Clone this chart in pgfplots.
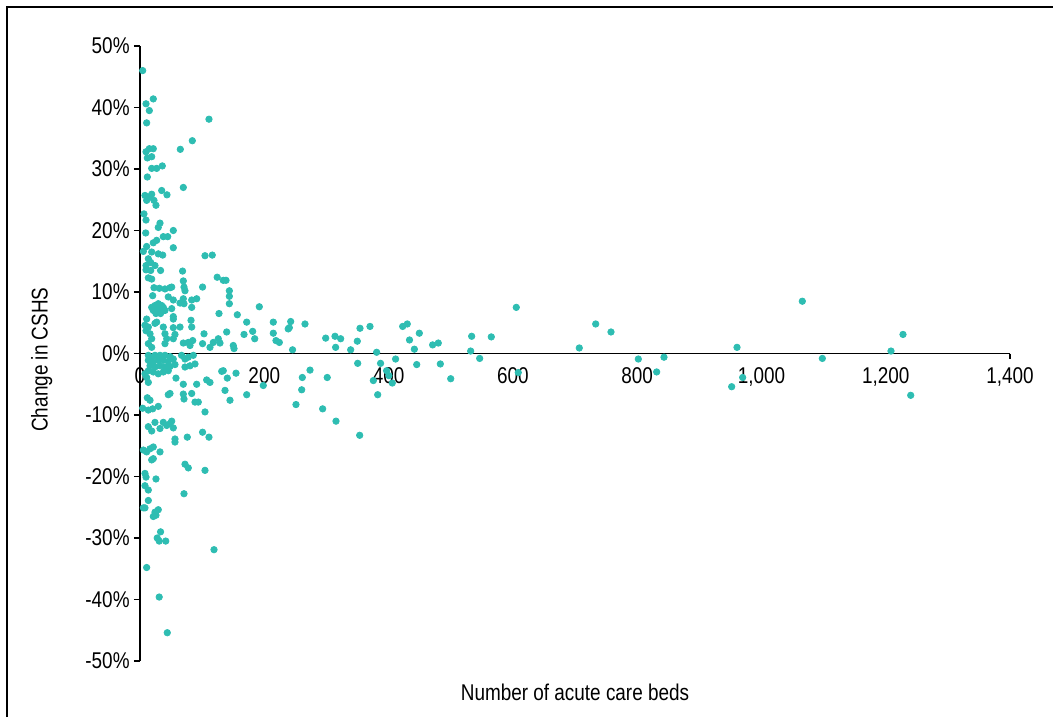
\documentclass[border=0pt]{standalone}
\usepackage{pgfplots}
\pgfplotsset{compat=1.18}
\usepackage{fontspec}
\setmainfont{Liberation Sans}[FakeStretch=0.83]
\definecolor{dotc}{RGB}{46,189,178}
\begin{document}
\begin{tikzpicture}
\fontsize{11.4pt}{13pt}\selectfont
\path[use as bounding box] (-70pt,-28pt) rectangle (456.5pt,330.5pt);
\draw[line width=1pt] (-66.5pt,-28pt) -- (-66.5pt,327pt) -- (460pt,327pt);
\begin{axis}[
  name=ax, at={(0,0)}, anchor=south west,
  scale only axis, width=435pt, height=307.5pt,
  xmin=0, xmax=1400, ymin=-50, ymax=50,
  axis x line=middle, axis y line=left,
  axis line style={-, black, line width=0.75pt},
  hide obscured x ticks=false, hide obscured y ticks=false,
  tick align=outside, tick style={black, line width=0.75pt},
  major tick length=3pt,
  xtick={0,200,...,1400},
  x tick style={draw=none},
  ytick={-50,-40,...,50},
  yticklabels={-50\%,-40\%,-30\%,-20\%,-10\%,0\%,10\%,20\%,30\%,40\%,50\%},
  yticklabel style={xshift=1.8pt},
  /pgf/number format/.cd, 1000 sep={,}, assume math mode=true, /pgfplots/.cd,
  every axis x label/.style={at={(axis description cs:0.5,0)}, anchor=center, yshift=-15.5pt},
  every axis y label/.style={at={(axis description cs:-0.113,0.49)}, rotate=90, anchor=center},
  xlabel={Number of acute care beds},
  ylabel={Change in CSHS},
  clip=false,
]
\addplot[only marks, mark=*, mark size=1.6pt, mark options={draw=dotc, fill=dotc}] table {
x y
4.3 46.0
9.7 40.6
21.4 41.4
15 39.5
10.7 37.5
111 38.1
84.2 34.6
64.9 33.2
9.7 32.8
15 33.3
21.4 33.3
11.8 31.8
18.8 32.0
18.8 30.1
26.8 30.1
35.9 30.5
11.8 28.7
34.9 26.5
43.4 25.8
69.7 27.0
8 25.7
18.8 25.9
15 25.4
10.7 24.9
22.5 24.9
25.7 24.1
6.4 22.7
9.7 21.7
32.2 21.2
29.4 20.5
53.6 20.0
9.2 19.6
37.5 19.0
44.6 19.0
26.8 18.4
21.4 18.0
10.7 17.4
53.6 17.2
5.4 16.6
18.8 16.5
29.4 16.2
36.5 16.0
104.6 15.9
116.3 16.0
13.4 15.4
17.2 14.8
9.7 14.3
24.1 14.3
9.7 13.6
17.2 13.5
33.1 13.5
68.5 13.4
13.4 12.3
18.8 12.1
69.7 11.8
124.2 12.4
134 11.9
138.4 11.9
100.7 10.8
70.8 10.8
72.4 10.2
22.5 10.7
31.1 10.6
40.2 10.5
48.3 10.7
51 10.8
143.8 10.2
143.8 9.3
143.8 8.1
20.4 9.4
45.5 9.2
53.6 8.7
69.7 8.9
70.8 8.1
83.2 8.7
91.2 8.9
64.4 8.2
83.2 7.5
18.8 7.5
24.1 7.8
29.4 8.1
34.9 7.8
37.5 7.5
21.4 7.0
26.8 7.3
32.2 7.1
40.2 7.0
25.7 6.5
33.1 6.5
51 7.3
53.6 6.0
127.1 6.5
156.6 6.3
10.7 5.6
26.8 5.1
24.1 4.9
53.6 5.6
82.1 5.4
83.2 4.3
171.7 5.1
8 4.6
13.4 4.3
9.7 3.7
37.5 4.3
53.6 4.2
64.4 4.3
103 3.2
139.5 3.5
126 2.4
118 1.8
16.1 3.2
18.8 2.4
13.4 1.6
40.2 3.2
43 2.4
40.2 1.6
56.3 3.1
53.6 2.4
69.7 1.7
77.7 1.8
80.5 1.3
84.8 2.1
100.7 1.6
112.6 1.0
128.7 1.7
150.1 1.3
151.3 0.8
18.8 1.0
13.4 -0.3
18.8 -0.6
24.1 -0.3
32.2 -0.3
40.2 -0.3
48.3 -0.5
13.4 -1.1
21.4 -1.4
29.4 -1.1
37.5 -1.1
45.5 -1.3
53.6 -0.9
16.1 -2.0
24.1 -2.2
32.2 -2.0
40.2 -2.2
48.3 -2.1
56.3 -1.8
13.4 -2.8
21.4 -3.0
29.4 -3.3
37.5 -3.0
45.5 -2.8
66.9 -0.3
72.4 -0.9
77.7 -0.6
85.8 -0.3
88.5 -1.7
80.5 -2.0
72.4 -2.2
8 -3.3
10.7 -3.9
13.4 -4.7
57.9 -4.0
69.7 -5.0
91.2 -5.0
107.3 -4.3
112.6 -4.7
134 -2.8
131.5 -2.9
140.5 -4.0
154.5 -3.2
136.8 -6.0
144.8 -7.6
171.7 -6.7
48.3 -6.5
45.5 -6.7
69.7 -6.6
70.8 -7.4
83.2 -6.5
88.5 -7.9
93.8 -7.9
11.8 -7.2
16.1 -7.6
4.3 -8.9
13.4 -9.2
29.4 -8.6
20.4 -9.0
104.6 -9.5
13.4 -11.9
18.8 -12.6
24.1 -11.2
32.2 -12.2
37.5 -11.2
43 -11.7
48.3 -11.4
51 -11.0
53.6 -12.1
56.3 -13.9
56.3 -14.4
76.1 -13.6
100.7 -12.8
111 -13.6
5.4 -15.7
10.7 -16.0
16.1 -15.5
21.4 -15.2
32.2 -16.0
18.8 -17.3
21.4 -17.1
72.4 -18.0
77.7 -18.6
104.6 -19.0
8 -19.5
9.7 -20.1
25.7 -20.4
8 -21.5
13.4 -22.2
70.8 -22.8
13.4 -23.9
8 -25.1
5.4 -25.1
24.1 -25.8
29.4 -25.4
21.4 -26.5
25.7 -26.3
33.1 -29.0
27.7 -30.0
30.9 -30.5
41.4 -30.5
119.1 -31.9
10.7 -34.8
30.9 -39.6
43.9 -45.4
192 7.6
214.5 5.1
242.5 5.2
265.5 4.8
181.3 3.6
167.4 3.1
184.6 2.4
214.5 3.3
238.5 4.0
240.3 4.2
218.8 2.1
224.2 1.8
245.5 0.6
298.8 2.5
313.8 2.8
322.9 2.4
314.8 1.0
339 0.6
349.7 2.0
354 4.1
370.1 4.4
350.3 -1.6
380.8 0.2
387.1 -1.6
396.8 -2.8
400.5 -3.6
375.5 -4.4
382.5 -6.7
406 -4.8
411.3 -0.9
422.7 4.4
430.1 4.8
433.7 2.2
449.5 3.3
441.5 0.7
445.3 -1.8
470.9 1.4
480 1.7
483.3 -1.7
500 -4.1
533.7 2.8
532.1 0.4
546.6 -0.8
565.3 2.7
605.5 7.5
608.7 -3.1
301.3 -3.9
261.2 -3.9
273.6 -2.7
198.4 -5.2
260.2 -5.9
251 -8.3
293.9 -9.0
315.4 -11.0
353.5 -13.3
733.3 4.8
757.9 3.5
706.9 0.9
801.9 -0.9
831.4 -3.0
843.2 -0.6
960.7 1.0
952.1 -5.4
969.8 -3.9
1065.8 8.5
1098 -0.8
1208.5 0.4
1227.8 3.1
1240.2 -6.8
};
\draw[black, line width=0.75pt] (axis cs:1400,0) -- ++(0pt,-2.5pt);
\end{axis}
\end{tikzpicture}
\end{document}
